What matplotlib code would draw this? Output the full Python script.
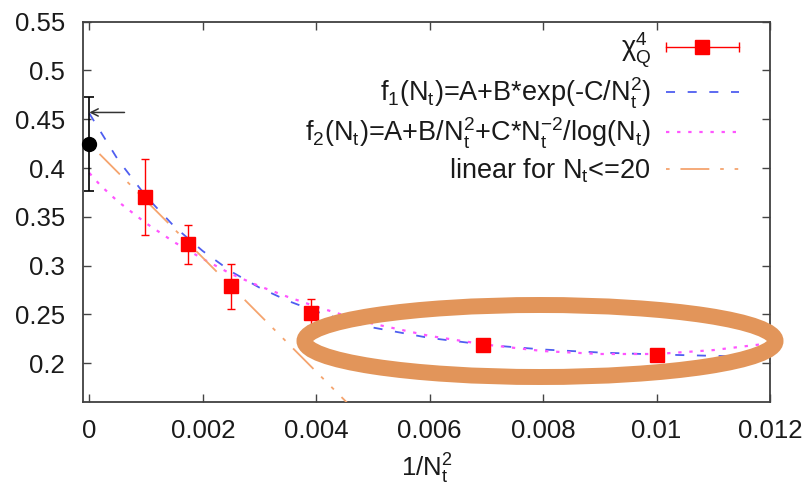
import matplotlib
matplotlib.use("Agg")
import matplotlib.pyplot as plt
from matplotlib.lines import Line2D
from matplotlib.patches import Ellipse
from matplotlib.legend_handler import HandlerLine2D

plt.rcParams['font.family'] = ['Liberation Sans', 'DejaVu Sans']
plt.rcParams['mathtext.fontset'] = 'custom'
plt.rcParams['mathtext.rm'] = 'Liberation Sans'
plt.rcParams['mathtext.it'] = 'Liberation Sans:italic'
plt.rcParams['mathtext.default'] = 'regular'

# ---- data ----
inv_nt2 = [1/32**2, 1/24**2, 1/20**2, 1/16**2, 1/12**2, 1/10**2]
chi4 = [0.370, 0.322, 0.279, 0.252, 0.219, 0.2085]
chi4_err = [0.039, 0.020, 0.023, 0.014, 0.004, 0.004]

cont_x = [0.0]
cont_y = [0.425]
cont_err = [0.048]

arrow_y = 0.457
arrow_tail_x = 0.00062

f1_x = [0.0, 0.0005, 0.001, 0.0015, 0.002, 0.0025, 0.003, 0.0035, 0.004, 0.0045,
        0.005, 0.006, 0.007, 0.008, 0.009, 0.010, 0.011, 0.0114]
f1_y = [0.456, 0.409, 0.371, 0.340, 0.315, 0.294, 0.2775, 0.264, 0.253, 0.244,
        0.2366, 0.2259, 0.2188, 0.2141, 0.2110, 0.2090, 0.2076, 0.2072]

f2_x = [0.0, 0.0002, 0.0005, 0.001, 0.0015, 0.002, 0.0025, 0.003, 0.0035, 0.004,
        0.0045, 0.005, 0.006, 0.007, 0.008, 0.009, 0.010, 0.011, 0.012]
f2_y = [0.395, 0.382, 0.366, 0.3435, 0.324, 0.307, 0.2915, 0.279, 0.268, 0.258,
        0.249, 0.2405, 0.228, 0.219, 0.2125, 0.2095, 0.2095, 0.2135, 0.2205]

lin_x = [0.0, 0.0047]
lin_y = [0.425, 0.1505]

xticks = [0, 0.002, 0.004, 0.006, 0.008, 0.010, 0.012]
xtick_labels = ['0', '0.002', '0.004', '0.006', '0.008', '0.01', '0.012']
yticks = [0.2, 0.25, 0.3, 0.35, 0.4, 0.45, 0.5, 0.55]
ytick_labels = ['0.2', '0.25', '0.3', '0.35', '0.4', '0.45', '0.5', '0.55']

labels = [r'$\chi_Q^4$',
          r'f$_1$(N$_t$)=A+B*exp(-C/N$_t^2$)',
          r'f$_2$(N$_t$)=A+B/N$_t^2$+C*N$_t^{-2}$/log(N$_t$)',
          r'linear for N$_t$<=20']

# ---- figure ----
FS_TICK = 18.5
FS_LEG = 19.5
fig = plt.figure(figsize=(8.11, 4.92), dpi=100)
L, R, T, B = 83.3, 770, 21.7, 402.3
ax = fig.add_axes([L/811, 1-B/492, (R-L)/811, (B-T)/492])

blue = '#4f5ef0'
mag = '#ff55ff'
orng = '#f5a46e'
red = '#ff0000'
txt = '#1a1a1a'

l1, = ax.plot(f1_x, f1_y, color=blue, lw=1.3, dashes=(5, 7), zorder=3)
l2, = ax.plot(f2_x, f2_y, color=mag, lw=1.6, dashes=(1.5, 3.5), zorder=3)
l3, = ax.plot(lin_x, lin_y, color=orng, lw=1.3,
              dashes=(2, 6, 16, 6, 2, 6), zorder=3)

ax.errorbar(inv_nt2, chi4, yerr=chi4_err, fmt='s', color=red, ms=9.6,
            elinewidth=1.0, capsize=3, capthick=1.0, zorder=4)
ax.errorbar(cont_x, cont_y, yerr=cont_err, fmt='o', color='black', ms=10,
            elinewidth=1.2, capsize=3.5, capthick=1.2, zorder=5, clip_on=False)

ax.annotate('', xy=(0.0, arrow_y), xytext=(arrow_tail_x, arrow_y),
            arrowprops=dict(arrowstyle='->', color='#333333', lw=1.1,
                            shrinkA=0, shrinkB=0, mutation_scale=13))

ax.set_xlim(-0.000106, 0.012)
ax.set_ylim(0.16, 0.55)
ax.set_xticks(xticks)
ax.set_xticklabels(xtick_labels)
ax.set_yticks(yticks)
ax.set_yticklabels(ytick_labels)
ax.tick_params(direction='in', length=6, width=1.0, top=True, right=True,
               labelsize=FS_TICK, labelcolor=txt, color='#444444')
ax.tick_params(axis='y', pad=13)
ax.tick_params(axis='x', pad=12)
for s in ax.spines.values():
    s.set_linewidth(1.3)
    s.set_color('#404040')
ax.set_xlabel(r'1/N$_t^2$', fontsize=FS_TICK, labelpad=6, color=txt)

# legend
h_main = Line2D([], [], color=red, lw=1.0, marker='s', ms=9.6)
h_caps = Line2D([], [], color=red, lw=0, marker='|', ms=7, mew=1.0)
leg = ax.legend([(h_main, h_caps), l1, l2, l3], labels,
                handler_map={h_caps: HandlerLine2D(numpoints=2, marker_pad=0)},
                loc='upper right', bbox_to_anchor=(739/811, 1-30/492),
                bbox_transform=fig.transFigure, frameon=False, markerfirst=False,
                fontsize=FS_LEG, handlelength=2.7, handletextpad=0.55,
                borderaxespad=0, borderpad=0, labelspacing=0.2, numpoints=1)
for t in leg.get_texts():
    t.set_color(txt)

# annotation ellipse (figure coordinates)
ell = Ellipse((540/811, 1-341/492), 471/811, 72/492, transform=fig.transFigure,
              fill=False, ec='#e2955a', lw=11.5, zorder=10)
fig.add_artist(ell)

fig.savefig('out.png', dpi=100)
